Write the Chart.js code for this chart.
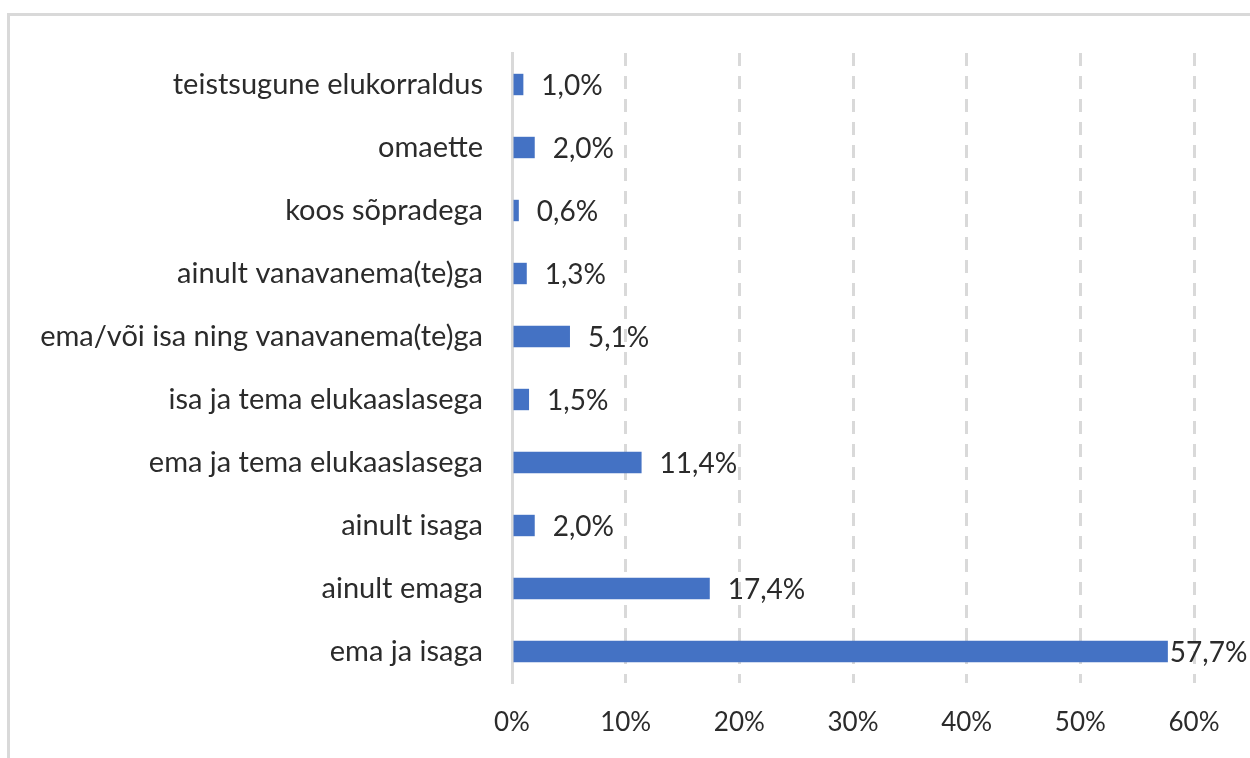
<!DOCTYPE html>
<html>
<head>
<meta charset="utf-8">
<script src="https://cdn.jsdelivr.net/npm/chart.js@4.4.1/dist/chart.umd.min.js"></script>
<style>
  html, body { margin: 0; padding: 0; background: #fff; overflow: hidden; }
  .frame { position: absolute; left: 7px; top: 13px; width: 1280px; height: 800px; border: 3px solid #d9d9d9; }
  .wrap { position: absolute; left: 0; top: 0; width: 1250px; height: 758px; }
</style>
</head>
<body>
<div class="frame"></div>
<div class="wrap"><canvas id="chart"></canvas></div>
<script>
const CATEGORIES = [
  'teistsugune elukorraldus',
  'omaette',
  'koos sõpradega',
  'ainult vanavanema(te)ga',
  'ema/või isa ning vanavanema(te)ga',
  'isa ja tema elukaaslasega',
  'ema ja tema elukaaslasega',
  'ainult isaga',
  'ainult emaga',
  'ema ja isaga',
];
const SHARES = [1.0, 2.0, 0.6, 1.3, 5.1, 1.5, 11.4, 2.0, 17.4, 57.7];
const X_TICKS = [0, 10, 20, 30, 40, 50, 60];

const FONT = 'Lato';
const INK = '#2b2b2b';
const GRID = '#d9d9d9';

const pct = (v) => v.toFixed(1).replace('.', ',') + '%';

// values at the end of each bar, Excel style
const barLabels = {
  id: 'barLabels',
  afterDatasetsDraw(chart) {
    const { ctx } = chart;
    const meta = chart.getDatasetMeta(0);
    ctx.save();
    ctx.font = `28px ${FONT}`;
    ctx.fillStyle = INK;
    ctx.textBaseline = 'middle';
    ctx.textAlign = 'left';
    meta.data.forEach((bar, i) => {
      const { x, y } = bar.getProps(['x', 'y'], true);
      const text = pct(SHARES[i]);
      const w = ctx.measureText(text).width;
      let tx = x + 18;
      if (tx + w > chart.width - 2) tx = x + 2;
      ctx.fillText(text, tx, y + 1);
    });
    ctx.restore();
  },
};

new Chart(document.getElementById('chart'), {
  type: 'bar',
  data: {
    labels: CATEGORIES,
    datasets: [{
      data: SHARES,
      backgroundColor: '#4472c4',
      categoryPercentage: 1,
      barPercentage: 0.34,
    }],
  },
  plugins: [barLabels],
  options: {
    indexAxis: 'y',
    responsive: true,
    maintainAspectRatio: false,
    animation: false,
    layout: { padding: { left: 0, right: 56, top: 53, bottom: 0 } },
    plugins: { legend: { display: false }, tooltip: { enabled: false } },
    scales: {
      x: {
        min: 0,
        max: 60,
        afterBuildTicks: (scale) => { scale.ticks = X_TICKS.map((value) => ({ value })); },
        afterFit: (scale) => { scale.height = 75; },
        grid: { color: GRID, lineWidth: 3, drawTicks: false },
        border: { display: false, dash: [13, 10] },
        ticks: { padding: 24, color: INK, font: { family: FONT, size: 26 }, callback: (v) => `${v}%` },
      },
      y: {
        afterFit: (scale) => { scale.width = 512; },
        grid: { display: false, drawTicks: false },
        border: { display: true, color: GRID, width: 3 },
        ticks: { padding: 29, color: INK, font: { family: FONT, size: 29 } },
      },
    },
  },
});
</script>
</body>
</html>
